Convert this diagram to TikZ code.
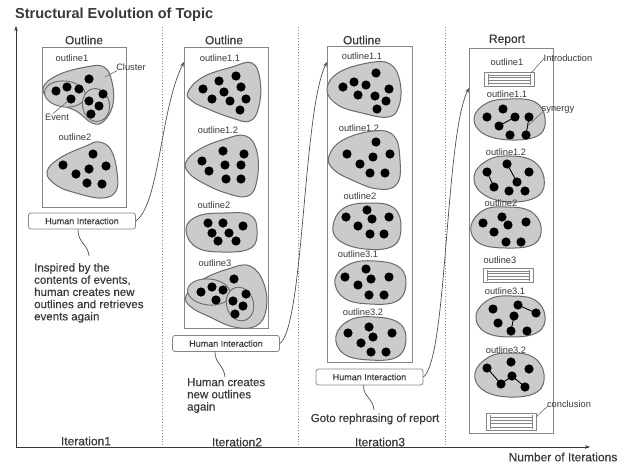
\documentclass[tikz,border=0pt]{standalone}
\usepackage{fontspec}
\setmainfont{Liberation Sans}
\newfontfamily\medfont[FakeBold=0.35]{Liberation Sans}
\usetikzlibrary{arrows.meta}
\definecolor{blobfill}{HTML}{CBCBCB}
\definecolor{blobline}{HTML}{6A6A6A}
\definecolor{boxline}{HTML}{858585}
\definecolor{txt}{HTML}{383838}
\definecolor{connc}{HTML}{505050}
\definecolor{sepc}{HTML}{8C8C8C}
\newcommand\evdots[1]{\foreach \p in {#1} \fill[evdot] \p circle (4.6pt);}
\begin{document}
\begin{tikzpicture}[x=1pt,y=-1pt,
  blob/.style={fill=blobfill, draw=blobline, line width=1pt},
  subc/.style={fill=blobfill, draw=blobline, line width=0.9pt},
  evdot/.style={fill=black},
  syn/.style={draw=black, line width=0.9pt},
  colbox/.style={draw=boxline, line width=0.9pt, inner sep=0pt, fill=white},
  hibox/.style={draw=boxline, rounded corners=2.5pt, line width=0.8pt, minimum width=107pt, minimum height=16pt, inner sep=0pt, font=\medfont\fontsize{9}{10}\selectfont, text=txt},
  head/.style={font=\medfont\fontsize{12}{13}\selectfont, text=txt, inner sep=0pt},
  lab/.style={font=\fontsize{9.3}{10}\selectfont, text=txt, inner sep=0pt},
  para/.style={font=\medfont\fontsize{11.5}{12.2}\selectfont, text=txt, align=left, inner sep=0pt},
  iter/.style={font=\medfont\fontsize{12}{13}\selectfont, text=txt, inner sep=0pt},
  conn/.style={draw=connc, line width=0.7pt},
  pointer/.style={draw=blobline, line width=0.6pt},
  sepline/.style={draw=sepc, dotted, line width=0.8pt},
  axisline/.style={draw=txt, line width=0.8pt},
  docl/.style={draw=boxline, line width=0.6pt},
  docicon/.pic={
    \draw[docl, fill=white] (-25,-7) rectangle (25,7);
    \draw[docl] (-21,-5.5)--(-21,5.5) (21,-5.5)--(21,5.5);
    \foreach \yy in {-4,-1.3,1.3,4} \draw[docl] (-21,\yy)--(21,\yy);
  },
]
\useasboundingbox (0,0) rectangle (625,464);

% title and axes
\node[anchor=west, inner sep=0pt, font=\bfseries\fontsize{14.5}{16}\selectfont, text=txt] (title) at (15,15) {Structural Evolution of Topic};
\coordinate (O) at (16,447);
\coordinate (ytop) at (16,26);
\coordinate (xend) at (590,447);
\draw[axisline, -{Stealth[length=5pt,width=3.5pt]}] (O) -- (ytop);
\draw[axisline, -{Stealth[length=5pt,width=3.5pt]}] (O) -- (xend);
\node[iter] (nit) at (563,457) {Number of Iterations};

% separators
\draw[sepline] (162,27) -- (162,447);
\draw[sepline] (298,27) -- (298,447);
\draw[sepline] (445,27) -- (445,447);

\node[iter] (it1) at (86,441) {Iteration1};
\node[iter] (it2) at (237,442) {Iteration2};
\node[iter] (it3) at (380,442) {Iteration3};

% column boxes
\node[colbox, minimum width=84pt, minimum height=160pt] (box1) at (84,127) {};
\node[colbox, minimum width=84pt, minimum height=281pt] (box2) at (226,187.5) {};
\node[colbox, minimum width=85pt, minimum height=316pt] (box3) at (369.5,204) {};
\node[colbox, minimum width=84pt, minimum height=385pt] (box4) at (511,240.5) {};

\node[head] (h1) at (84,40) {Outline};
\node[head] (h2) at (224,40) {Outline};
\node[head] (h3) at (362,40) {Outline};
\node[head] (h4) at (507,40) {Report};

% ---------- column 1 ----------
\node[lab] (c1o1) at (72,58) {outline1};
\draw[blob] plot[smooth cycle, tension=0.7] coordinates {(43,88) (58,75) (86,67) (104,67) (112,82) (113,104) (104,121) (92,123) (76,111) (52,101)};
\draw[subc, rotate around={-6:(65,94)}] (65,94) ellipse (20.5pt and 13pt);
\draw[subc, rotate around={10:(96,105)}] (96,105) ellipse (13.5pt and 16.5pt);
\evdots{(89,79),(56,91),(67,87),(79,89),(71,99),(89,101),(103,94),(99,106),(91,114)}
\node[lab] (clu) at (131,67) {Cluster};
\coordinate (cluend) at (105,77);
\draw[pointer] ([xshift=1pt]clu.south west) -- (cluend);
\node[lab] (ev) at (57,117) {Event};
\coordinate (evend) at (68,101);
\draw[pointer] ([xshift=-4pt]ev.north) -- (evend);

\node[lab] (c1o2) at (75,137) {outline2};
\draw[blob] plot[smooth cycle, tension=0.7] coordinates {(47,172) (60,158) (86,146) (99,142) (111,150) (117,172) (116,191) (102,198) (76,193) (56,185)};
\evdots{(93,154),(63,165),(76,174),(89,169),(106,166),(87,183),(102,184)}

\node[hibox] (hi1) at (82,221) {Human Interaction};
\node[para, anchor=north west] (p1) at (34,263) {Inspired by the\\contents of events,\\human creates new\\outlines and retrieves\\events again};
\coordinate (w1) at (89,256);
\draw[conn] ([xshift=-4pt]hi1.south) .. controls +(0,14) and +(-1,-12) .. (w1);

% ---------- column 2 ----------
\node[lab] (c2o1) at (220,58) {outline1.1};
\draw[blob] plot[smooth cycle, tension=0.7] coordinates {(188,92) (203,77) (232,67) (252,63) (260,80) (259,106) (250,121) (232,118) (208,109) (192,101)};
\evdots{(236,76),(219,81),(203,89),(241,87),(224,92),(212,99),(230,101),(246,99),(240,110)}

\node[lab] (c2o2) at (218,130) {outline1.2};
\draw[blob] plot[smooth cycle, tension=0.7] coordinates {(186,162) (200,149) (225,139) (246,136) (257,152) (257,180) (248,196) (226,193) (203,183) (189,173)};
\evdots{(223,151),(244,154),(202,161),(225,165),(241,165),(209,171),(226,179),(241,179)}

\node[lab] (c2o3) at (214,205) {outline2};
\draw[blob] plot[smooth cycle, tension=0.7] coordinates {(186,229) (198,216) (225,213) (250,215) (257,230) (251,248) (222,252) (196,247)};
\evdots{(208,223),(223,223),(243,226),(212,233),(229,233),(218,241),(236,241)}

\node[lab] (c2o4) at (215,263) {outline3};
\draw[blob] plot[smooth cycle, tension=0.7] coordinates {(186,296) (200,281) (228,269) (250,266) (264,284) (266,310) (256,326) (234,327) (210,317) (191,307)};
\draw[subc, rotate around={-6:(209,292)}] (209,292) ellipse (21.5pt and 13pt);
\draw[subc, rotate around={15:(240,304)}] (240,304) ellipse (13.5pt and 17pt);
\evdots{(234,279),(201,292),(212,287),(223,290),(216,300),(246,294),(233,301),(243,306),(235,314)}

\node[hibox] (hi2) at (226,343.5) {Human Interaction};
\node[para, anchor=north west] (p2) at (187,378) {Human creates\\new outlines\\again};
\coordinate (w2) at (225,377);
\draw[conn] ([xshift=-11pt]hi2.south) .. controls +(0,12) and +(-1,-12) .. (w2);

% ---------- column 3 ----------
\node[lab] (c3o1) at (362,56) {outline1.1};
\draw[blob] plot[smooth cycle, tension=0.7] coordinates {(327,90) (338,73) (368,63) (390,64) (400,82) (399,106) (388,117) (362,113) (338,105)};
\evdots{(376,73),(343,87),(354,82),(366,85),(358,95),(375,96),(389,89),(386,101),(377,109)}

\node[lab] (c3o2) at (359,128) {outline1.2};
\draw[blob] plot[smooth cycle, tension=0.7] coordinates {(329,156) (343,140) (374,131) (394,136) (400,160) (397,184) (378,189) (352,180) (333,169)};
\evdots{(376,142),(347,154),(373,157),(390,154),(360,164),(370,173),(385,173)}

\node[lab] (c3o3) at (360,196) {outline2};
\draw[blob] plot[smooth cycle, tension=0.7] coordinates {(333,226) (344,208) (370,203) (394,208) (401,228) (393,246) (365,249) (340,241)};
\evdots{(367,210),(346,217),(372,219),(389,217),(358,226),(370,234),(384,234)}

\node[lab] (c3o4) at (358,254) {outline3.1};
\draw[blob] plot[smooth cycle, tension=0.7] coordinates {(335,279) (350,264) (375,261) (399,267) (406,284) (397,301) (370,304) (344,298)};
\evdots{(366,269),(345,277),(371,279),(389,277),(358,285),(369,295),(384,295)}

\node[lab] (c3o5) at (363,312) {outline3.2};
\draw[blob] plot[smooth cycle, tension=0.7] coordinates {(336,336) (350,320) (375,317) (399,323) (406,340) (397,357) (370,360) (344,354)};
\evdots{(369,327),(348,333),(373,337),(392,333),(361,343),(371,352),(386,352)}

\node[hibox] (hi3) at (369.5,377) {Human Interaction};
\node[para] (p3) at (375,419) {Goto rephrasing of report};
\coordinate (w3) at (374,410);
\draw[conn] ([xshift=-6pt]hi3.south) .. controls +(0,12) and +(-1,-12) .. (w3);

% ---------- column 4 ----------
\node[lab] (c4o1) at (507,62) {outline1};
\pic (doc1) at (509,79) {docicon};
\coordinate (docA) at (531,73);
\node[lab] (intro) at (568,58) {Introduction};
\draw[pointer] ([xshift=1pt]intro.west) -- (docA);

\node[lab] (c4o2) at (507,94) {outline1.1};
\draw[blob] plot[smooth cycle, tension=0.7] coordinates {(474,118) (487,103) (510,99) (535,102) (545,118) (539,135) (512,140) (484,134)};
\evdots{(503,109),(487,117),(515,117),(529,117),(499,126),(510,135),(526,135)}
\draw[syn] (499,126) -- (515,117);
\draw[syn] (529,117) -- (526,135);
\node[lab] (synl) at (558,110) {synergy};
\coordinate (synA) at (527.5,126);
\draw[pointer] ([xshift=1pt,yshift=-2pt]synl.west) -- (synA);

\node[lab] (c4o3) at (506,152) {outline1.2};
\draw[blob] plot[smooth cycle, tension=0.7] coordinates {(474,176) (488,160) (510,156) (533,161) (544,178) (538,196) (510,202) (483,194)};
\evdots{(507,164),(487,172),(529,172),(517,182),(494,187),(509,191),(525,191)}
\draw[syn] (487,172) -- (494,187);
\draw[syn] (507,164) -- (517,182);

\node[lab] (c4o4) at (501,203) {outline2};
\draw[blob] plot[smooth cycle, tension=0.7] coordinates {(471,226) (484,210) (506,207) (530,211) (541,227) (534,244) (506,248) (479,243)};
\evdots{(502,217),(483,223),(508,225),(526,222),(494,232),(506,242),(521,242)}

\node[lab] (c4o5) at (500,260) {outline3};
\pic (doc2) at (508,275) {docicon};

\node[lab] (c4o6) at (505,291) {outline3.1};
\draw[blob] plot[smooth cycle, tension=0.7] coordinates {(476,315) (490,299) (512,296) (535,300) (545,316) (538,332) (512,337) (485,332)};
\evdots{(518,305),(493,309),(536,313),(514,316),(498,323),(511,331),(527,331)}
\draw[syn] (518,305) -- (536,313);
\draw[syn] (514,316) -- (511,331);

\node[lab] (c4o7) at (506,350) {outline3.2};
\draw[blob] plot[smooth cycle, tension=0.7] coordinates {(475,373) (489,357) (510,353) (533,357) (544,374) (537,392) (509,397) (483,390)};
\evdots{(511,362),(487,368),(529,369),(512,376),(501,384),(525,387)}
\draw[syn] (487,368) -- (501,384) -- (512,376) -- (525,387);

\pic[yscale=1.2] (doc3) at (511,422) {docicon};
\coordinate (docC) at (536,417);
\node[lab] (concl) at (569,404) {conclusion};
\draw[pointer] ([xshift=1pt,yshift=-2pt]concl.west) -- (docC);

% ---------- iteration connectors ----------
\coordinate (t2) at (184,62);
\coordinate (t3) at (327,62);
\coordinate (t4) at (469,88);
\draw[conn, -{Stealth[length=5pt,width=3.5pt]}] (hi1.east) .. controls +(24,-18) and +(-24,48) .. (t2);
\draw[conn, -{Stealth[length=5pt,width=3.5pt]}] (hi2.east) .. controls +(24,-18) and +(-24,48) .. (t3);
\draw[conn, -{Stealth[length=5pt,width=3.5pt]}] (hi3.east) .. controls +(24,-18) and +(-24,48) .. (t4);
\end{tikzpicture}
\end{document}
